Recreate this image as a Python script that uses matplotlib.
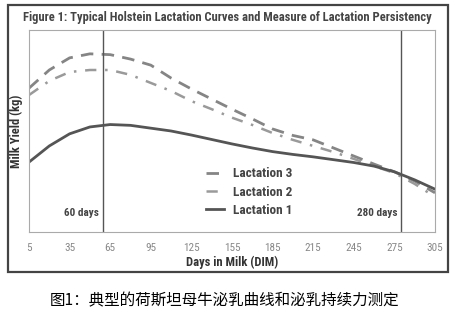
import matplotlib.pyplot as plt
from matplotlib.patches import Rectangle

# Days in milk (x) and milk yield (kg, relative scale)
dim = [5, 20, 35, 50, 65, 80, 95, 110, 125, 140, 155, 170, 185, 200,
       215, 230, 245, 260, 275, 290, 305]
lact3 = [35.6, 40.1, 43.1, 44.1, 43.9, 42.8, 41.3, 38.1, 35.4, 32.9, 30.4,
         28.0, 25.5, 23.9, 22.8, 20.8, 18.8, 16.8, 14.9, 12.6, 9.7]
lact2 = [33.9, 37.4, 39.6, 40.1, 40.1, 38.9, 36.9, 34.9, 32.4, 30.4, 28.3,
         26.5, 24.5, 22.8, 21.3, 19.8, 18.1, 16.3, 14.6, 11.9, 8.7]
lact1 = [17.3, 21.3, 24.3, 26.0, 26.6, 26.4, 25.7, 25.0, 24.0, 22.9, 21.8,
         20.8, 19.9, 19.2, 18.6, 17.9, 17.2, 16.3, 14.9, 12.9, 10.6]
xticks = [5, 35, 65, 95, 125, 155, 185, 215, 245, 275, 305]
markers = [60, 280]
marker_labels = ["60 days", "280 days"]
marker_label_x = [44, 262]

title = "Figure 1: Typical Holstein Lactation Curves and Measure of Lactation Persistency"
caption = "图1：典型的荷斯坦母牛泌乳曲线和泌乳持续力测定"

narrow = ["Roboto Condensed", "Liberation Sans Narrow", "Roboto", "DejaVu Sans"]

fig = plt.figure(figsize=(4.63, 3.25), dpi=100)
fig.patch.set_facecolor("white")

# outer frame round the figure
fig.patches.append(Rectangle((8 / 463, 1 - 272 / 325), 440 / 463, 267 / 325,
                             transform=fig.transFigure, fill=False,
                             edgecolor="#444444", linewidth=1.6))

ax = fig.add_axes([29 / 463, 1 - 232 / 325, 406 / 463, 202 / 325])
ax.set_xlim(5, 305)
ax.set_ylim(0, 50)

ax.plot(dim, lact3, color="#858585", linewidth=2, dashes=(4.5, 3),
        label="Lactation 3")
ax.plot(dim, lact2, color="#9a9a9a", linewidth=1.8, dashes=(4.5, 3.5, 1, 3.5),
        label="Lactation 2")
ax.plot(dim, lact1, color="#555555", linewidth=2, label="Lactation 1")

for m in markers:
    ax.axvline(m, color="#555555", linewidth=1)
for xm, lab in zip(marker_label_x, marker_labels):
    ax.text(xm, 0.094 * 50, lab, ha="center", va="center",
            fontsize=8, fontweight="bold", color="#444444", family=narrow)

ax.set_xticks(xticks)
ax.set_xticklabels([str(t) for t in xticks], fontsize=8, color="#888888",
                   family=narrow)
ax.tick_params(axis="x", length=0, pad=8)
ax.set_yticks([])
for s in ax.spines.values():
    s.set_color("#aaaaaa")
    s.set_linewidth(0.8)

ax.set_xlabel("Days in Milk (DIM)", fontsize=9, fontweight="bold",
              color="#333333", family=narrow, labelpad=2)
ax.set_ylabel("Milk Yield (kg)", fontsize=9, fontweight="bold",
              color="#333333", family=narrow, labelpad=4)

leg = ax.legend(loc="upper left", bbox_to_anchor=(0.437, 0.32), frameon=False,
                handlelength=1.35, handletextpad=0.65, labelspacing=0.4,
                borderpad=0, borderaxespad=0,
                prop={"family": narrow, "weight": "bold", "size": 9.5})
for t in leg.get_texts():
    t.set_color("#444444")

fig.text(227 / 463, 1 - 17 / 325, title, ha="center", va="center",
         fontsize=9, fontweight="bold", color="#444444", family=narrow)

fig.text(225 / 463, 1 - 301 / 325, caption, ha="center", va="center",
         fontsize=11.2, color="black", family=["Noto Sans CJK SC", "DejaVu Sans"])

fig.savefig("out.png", dpi=100)
